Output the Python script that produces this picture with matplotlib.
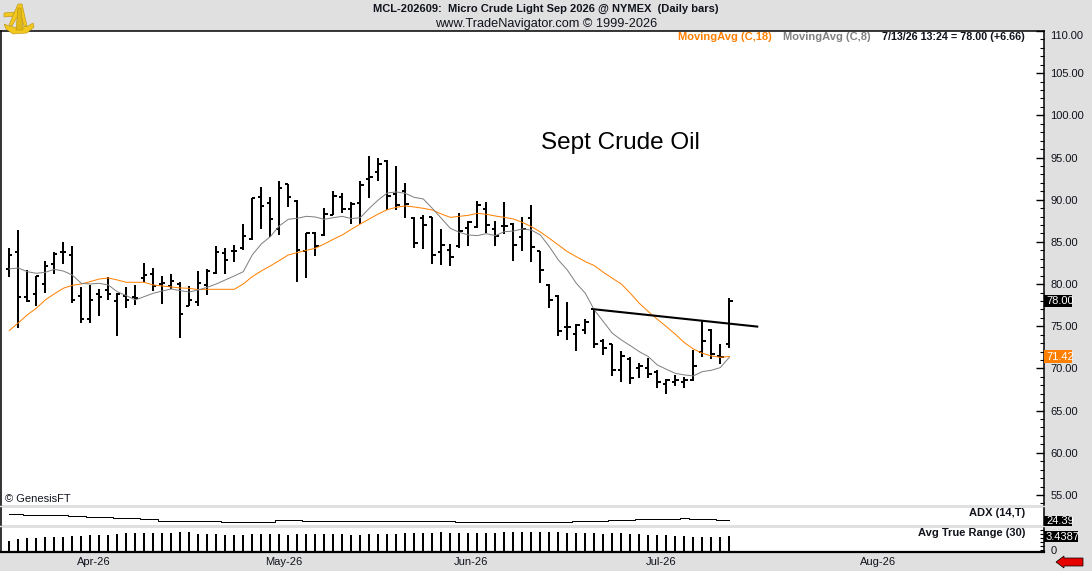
import numpy as np
import matplotlib
matplotlib.use('Agg')
import matplotlib.pyplot as plt
from matplotlib.patches import Polygon, Rectangle

plt.rcParams['font.family'] = ['Liberation Sans', 'DejaVu Sans']

# Daily bars
opens = [81.83, 83.84, 78.43, 78.83, 80.01, 82.42, 83.80, 83.49, 78.63, 75.90, 78.83, 79.34, 78.04, 78.63, 78.47, 80.76, 81.16,
         80.01, 79.77, 80.05, 77.44, 77.92, 79.85, 81.32, 83.65, 83.96, 84.28, 85.35, 90.36, 89.57, 86.57, 91.83, 89.89, 83.96,
         86.10, 85.82, 88.23, 90.32, 88.90, 89.57, 92.50, 93.25, 94.63, 90.72, 91.07, 87.87, 87.80, 87.91, 83.84, 84.08, 84.52,
         86.69, 86.81, 88.90, 86.53, 86.89, 87.16, 85.62, 87.88, 83.89, 79.93, 78.63, 74.96, 74.09, 74.52, 77.01, 73.26, 72.86,
         69.82, 71.16, 70.10, 70.10, 69.58, 68.12, 68.44, 68.44, 68.67, 71.95, 74.56, 71.52, 72.94]
highs = [84.24, 86.41, 81.67, 80.96, 82.74, 83.77, 84.99, 84.52, 79.70, 79.89, 79.42, 80.88, 78.91, 79.66, 79.89, 82.50, 81.87,
         80.96, 81.16, 80.21, 79.77, 81.55, 81.75, 84.52, 84.28, 84.63, 87.12, 90.17, 91.51, 90.28, 92.18, 91.86, 89.93, 86.02,
         86.14, 88.98, 91.00, 90.76, 89.73, 92.18, 95.18, 94.95, 94.67, 94.00, 91.98, 87.91, 88.15, 87.91, 86.53, 84.71, 88.39,
         87.44, 89.81, 89.73, 87.48, 89.73, 87.20, 87.92, 89.38, 83.89, 79.97, 78.67, 77.88, 75.23, 75.86, 77.01, 73.45, 72.86,
         72.07, 71.32, 70.61, 71.24, 69.78, 68.71, 69.19, 69.03, 72.19, 75.63, 74.64, 72.90, 78.31]
lows = [80.88, 74.84, 77.92, 77.44, 78.91, 81.16, 82.42, 77.80, 75.35, 75.35, 76.26, 78.12, 73.89, 77.21, 77.52, 80.21, 79.22,
        77.68, 79.42, 73.65, 77.36, 77.44, 78.75, 81.16, 81.24, 82.66, 84.08, 85.27, 86.53, 85.62, 85.86, 89.18, 80.29, 80.76,
        83.37, 85.74, 88.15, 88.47, 87.16, 87.08, 90.24, 92.26, 88.74, 88.82, 87.87, 84.32, 84.20, 82.42, 82.26, 82.18, 84.32,
        84.56, 86.69, 86.06, 84.56, 85.90, 82.78, 83.96, 82.66, 80.17, 77.21, 73.89, 73.42, 72.11, 74.13, 72.47, 71.64, 69.15,
        68.44, 68.20, 68.87, 68.91, 67.69, 67.01, 67.96, 67.69, 68.56, 71.40, 71.16, 70.53, 72.39]
closes = [83.49, 78.51, 78.00, 80.96, 82.15, 83.53, 83.80, 78.08, 75.90, 78.08, 78.43, 78.79, 78.83, 78.12, 78.35, 81.12, 79.74,
          80.09, 80.41, 76.50, 78.08, 80.17, 81.59, 83.84, 82.90, 83.96, 85.74, 90.17, 89.26, 87.76, 91.43, 90.28, 84.08, 86.02,
          84.52, 88.35, 90.48, 88.86, 89.49, 91.75, 92.73, 94.27, 90.48, 89.34, 89.53, 84.91, 86.97, 83.49, 84.67, 83.17, 86.33,
          87.36, 89.38, 86.97, 85.74, 86.89, 84.67, 86.49, 84.40, 81.67, 78.16, 74.48, 74.96, 75.11, 75.55, 72.94, 72.47, 69.82,
          71.48, 68.87, 70.33, 69.39, 68.44, 68.60, 68.60, 68.60, 70.33, 73.22, 71.68, 71.36, 78.00]

ma18 = [74.48, 75.39, 76.34, 77.13, 78.12, 78.83, 79.50, 79.85, 80.01, 80.29, 80.60, 80.72, 80.49, 80.21, 80.21, 80.21, 79.89,
        79.77, 79.66, 79.54, 79.50, 79.34, 79.38, 79.38, 79.38, 79.38, 80.01, 80.88, 81.55, 82.15, 82.78, 83.45, 83.73, 84.00,
        84.24, 84.75, 85.31, 85.82, 86.49, 87.12, 87.72, 88.31, 88.82, 89.10, 89.26, 89.14, 88.98, 88.78, 88.31, 87.91, 88.03,
        88.15, 88.39, 88.27, 88.07, 87.91, 87.72, 87.32, 86.81, 86.18, 85.43, 84.64, 83.85, 83.25, 82.66, 82.19, 81.40, 80.69,
        80.01, 78.91, 77.72, 76.73, 75.83, 74.96, 74.05, 73.06, 72.31, 71.80, 71.48, 71.32, 71.42]
ma8 = [81.79, 81.91, 81.47, 81.28, 81.39, 81.75, 81.55, 81.08, 80.09, 80.01, 80.09, 79.89, 79.10, 78.63, 78.12, 78.51, 78.91,
       79.18, 79.42, 79.22, 79.06, 79.30, 79.62, 80.01, 80.49, 80.96, 81.47, 83.45, 84.75, 85.62, 86.89, 87.68, 87.80, 88.03,
       87.95, 87.68, 87.87, 88.03, 87.76, 87.87, 88.98, 89.97, 90.80, 90.92, 90.76, 90.28, 90.09, 88.98, 87.80, 86.61, 86.14,
       85.82, 85.74, 85.98, 85.74, 86.21, 86.29, 86.53, 86.41, 85.82, 84.44, 82.86, 81.67, 80.09, 78.91, 76.93, 75.55, 74.17,
       73.38, 72.70, 71.99, 71.40, 70.41, 69.90, 69.42, 69.23, 69.11, 69.62, 69.78, 70.10, 71.32]

adx = [33.84, 33.84, 32.34, 32.34, 32.34, 32.34, 32.34, 30.84, 30.84, 29.34, 29.34, 29.34, 27.84, 27.84, 27.84, 26.34, 26.34,
       23.79, 23.79, 23.79, 23.79, 23.79, 23.79, 23.79, 22.29, 22.29, 22.29, 22.29, 22.29, 22.29, 24.39, 24.39, 24.39, 22.89,
       22.89, 22.89, 22.89, 22.89, 22.89, 22.89, 22.89, 22.89, 22.89, 22.89, 22.89, 22.89, 22.89, 22.89, 22.89, 22.89, 21.39,
       21.39, 21.39, 21.39, 21.39, 21.39, 21.39, 21.39, 21.39, 21.39, 21.39, 21.39, 21.39, 22.89, 22.89, 22.89, 22.89, 24.39,
       24.39, 24.39, 25.89, 25.89, 25.89, 25.89, 25.89, 27.39, 25.89, 25.89, 25.89, 24.39, 24.39]
atr = [2.21, 2.70, 2.95, 2.95, 3.19, 3.19, 3.19, 3.44, 3.44, 3.69, 3.69, 3.69, 3.93, 4.18, 4.18, 4.18, 4.18, 4.18, 4.18, 4.42,
       4.42, 3.93, 3.93, 3.93, 3.69, 3.69, 3.69, 3.93, 3.93, 3.93, 3.93, 3.69, 3.93, 3.93, 3.93, 3.93, 3.93, 3.93, 3.69, 3.69,
       3.93, 3.93, 3.93, 3.93, 4.18, 4.18, 4.18, 4.18, 4.42, 4.18, 4.18, 4.18, 4.18, 4.18, 4.18, 4.42, 4.42, 4.42, 4.42, 4.42,
       4.42, 4.42, 4.18, 4.18, 4.18, 4.18, 3.93, 4.18, 4.18, 3.93, 3.93, 3.69, 3.69, 3.69, 3.44, 3.44, 3.19, 3.19, 3.19, 3.19, 3.4387]

trend_x = [65, 83.1]
trend_y = [77.01, 74.96]

month_pos = [9.37, 30.5, 51.3, 72.4, 96.5]
month_labels = ['Apr-26', 'May-26', 'Jun-26', 'Jul-26', 'Aug-26']

W, H = 1092, 571
BG = '#e0e0e0'
INK = '#10131c'
ORANGE = '#ff8000'
GRAY = '#808080'
BAR_LW = 1.44
THIN_LW = 0.72

fig = plt.figure(figsize=(W / 100, H / 100), dpi=100, facecolor=BG)


# the layout below is all measured in pixels from the top left corner
def panel(left, top, right, bottom):
    ax = fig.add_axes([left / W, 1 - bottom / H, (right - left) / W, (bottom - top) / H])
    ax.set_xlim(-0.967, 114.9)
    ax.yaxis.tick_right()
    ax.set_xticks([])
    for s in ['top', 'bottom']:
        ax.spines[s].set_visible(False)
    for s in ['left', 'right']:
        ax.spines[s].set_linewidth(1.1)
    return ax


def px(x, y):
    return x / W, 1 - y / H


def label(x, y, s, **kw):
    kw.setdefault('va', 'center')
    kw.setdefault('fontsize', 8)
    kw.setdefault('color', INK)
    return fig.text(*px(x, y), s, **kw)


def shape(points, **kw):
    fig.add_artist(Polygon([px(*p) for p in points], transform=fig.transFigure, **kw))


def box(x0, y0, x1, y1, color):
    fig.add_artist(Rectangle(px(x0, y1), (x1 - x0) / W, (y1 - y0) / H, transform=fig.transFigure,
                             facecolor=color, edgecolor='none', zorder=2))


ax = panel(0.5, 31, 1043.5, 505)
adx_ax = panel(0.5, 508, 1043.5, 525)
atr_ax = panel(0.5, 528, 1043.5, 552)

# price panel
x = np.arange(len(closes))
ax.spines['top'].set_visible(True)
ax.spines['top'].set_linewidth(1.1)
ax.set_ylim(53.81, 110)
ax.vlines(x, lows, highs, color='black', linewidth=BAR_LW, zorder=2)
ax.hlines(opens, x - 0.36, x, color='black', linewidth=BAR_LW, zorder=2)
ax.hlines(closes, x, x + 0.36, color='black', linewidth=BAR_LW, zorder=2)
ax.plot(x, ma18, color=ORANGE, linewidth=THIN_LW, zorder=3)
ax.plot(x, ma8, color=GRAY, linewidth=THIN_LW, zorder=3)
ax.plot(trend_x, trend_y, color='black', linewidth=1.5, zorder=4)

ax.set_yticks(np.arange(55, 111, 5))
ax.set_yticklabels(['%.2f' % v for v in np.arange(55, 111, 5)])
ax.set_yticks(np.arange(54, 111, 1), minor=True)
ax.tick_params(axis='y', which='major', direction='in', length=6, width=1, labelsize=8,
               labelcolor=INK, pad=5)
ax.tick_params(axis='y', which='minor', direction='in', length=3, width=0.8)
ax.get_yticklabels()[-1].set_verticalalignment('top')

# ADX panel
adx_ax.set_ylim(17.34, 42.84)
adx_ax.set_yticks([])
adx_ax.plot(x, adx, color='black', linewidth=THIN_LW, drawstyle='steps-mid')

# ATR panel
atr_ax.set_ylim(-0.49, 5.41)
atr_ax.spines['bottom'].set_visible(True)
atr_ax.spines['bottom'].set_linewidth(1.6)
atr_ax.vlines(x, -0.49, atr, color='black', linewidth=BAR_LW)
atr_ax.set_yticks([0])
atr_ax.set_yticklabels(['0'])
atr_ax.set_yticks([1, 2, 3, 4, 5], minor=True)
atr_ax.tick_params(axis='y', which='major', direction='in', length=3, width=0.8, labelsize=8,
                   labelcolor=INK, pad=5)
atr_ax.tick_params(axis='y', which='minor', direction='in', length=3, width=0.8)
atr_ax.set_xticks(month_pos)
atr_ax.set_xticklabels(month_labels, fontsize=8, color=INK)
atr_ax.tick_params(axis='x', length=0, pad=3.5)

# header and legends
label(546, 9, 'MCL-202609:  Micro Crude Light Sep 2026 @ NYMEX  (Daily bars)', ha='center', fontweight='bold', fontsize=8)
label(546.5, 24, 'www.TradeNavigator.com \u00a9 1999-2026', ha='center', fontsize=9.15)
label(678, 37.5, 'MovingAvg (C,18)', color=ORANGE, fontweight='bold')
label(783, 37.5, 'MovingAvg (C,8)', color=GRAY, fontweight='bold')
label(882, 37.5, '7/13/26 13:24 = 78.00 (+6.66)', fontweight='bold', fontsize=7.75)
label(541, 142.5, 'Sept Crude Oil', fontsize=17.5, color='black')
label(5, 498.5, '\u00a9 GenesisFT')
label(1025, 513, 'ADX (14,T)', ha='right', fontweight='bold')
label(1025, 533, 'Avg True Range (30)', ha='right', fontweight='bold')

# value flags on the right axis
box(1044, 295, 1072, 307, 'black')
label(1046, 301, '78.00', color='white')
box(1044, 350, 1072, 363, ORANGE)
label(1046, 357, '71.42', color='white')
box(1044, 516, 1072, 526, 'black')
label(1046, 521, '24.39', color='white')
box(1044, 531, 1078, 542, 'black')
label(1045.5, 536.5, '3.4387', color='white')

# red arrow, bottom right
shape([(1056, 562), (1064, 556), (1064, 558), (1083, 558), (1083, 566), (1064, 566), (1064, 568)],
      facecolor='#e60000', edgecolor='black', linewidth=0.5, zorder=5)

# sextant logo, top left
gold = '#f2c81e'
dark = '#b8900f'
shape([(4, 24), (9, 26), (18, 28), (28, 26), (33, 23), (34, 27), (27, 33), (13, 34), (6, 29)],
      facecolor=gold, edgecolor=dark, linewidth=0.4, zorder=5)
shape([(4, 13), (15, 12), (15, 16), (4, 17)], facecolor=gold, edgecolor=dark, linewidth=0.4, zorder=5)
shape([(18, 4), (22, 4), (27, 26), (24, 26), (20, 12), (12, 26), (9, 25)],
      facecolor=gold, edgecolor=dark, linewidth=0.4, zorder=5)
shape([(18, 8), (21, 8), (23, 30), (16, 30)], facecolor='#e0b818', edgecolor=dark, linewidth=0.4, zorder=6)

fig.savefig('out.png', dpi=100, facecolor=BG)
